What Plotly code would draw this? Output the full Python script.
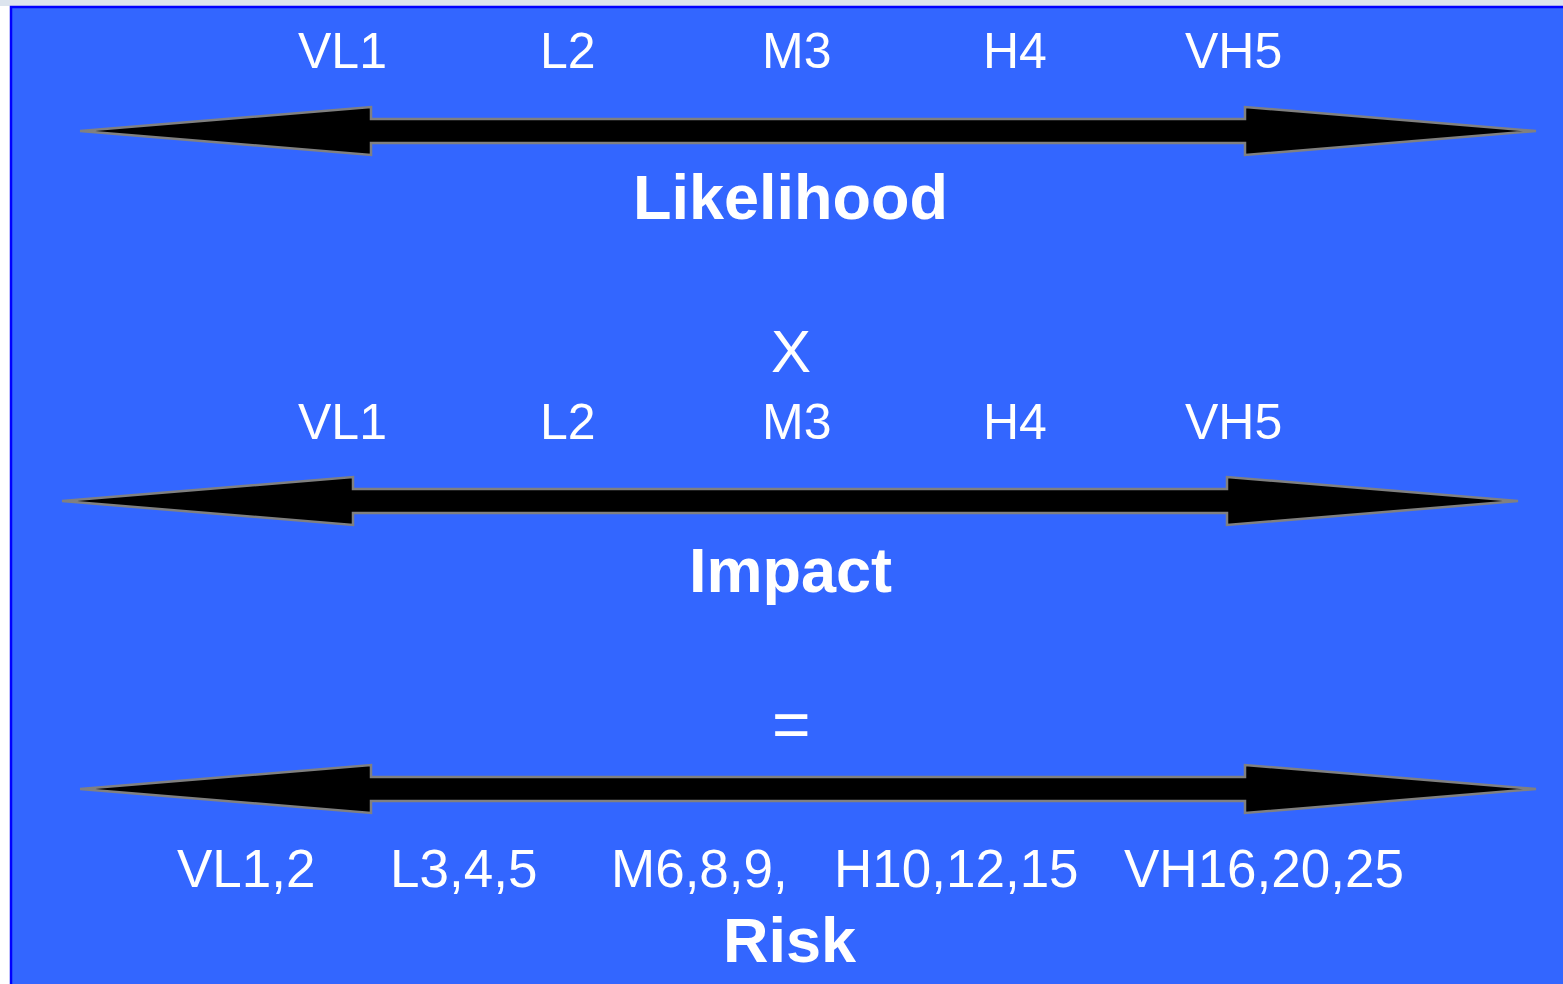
import plotly.graph_objects as go

# Data: labels
scale_labels = ["VL1", "L2", "M3", "H4", "VH5"]
risk_labels = ["VL1,2", "L3,4,5", "M6,8,9,", "H10,12,15", "VH16,20,25"]
titles = ["Likelihood", "Impact", "Risk"]
operators = ["X", "="]

W, H = 1563, 984
BLUE = "#3366FF"
FONT = "Liberation Sans, Arial, sans-serif"

fig = go.Figure()

# background panel
shapes = [
    dict(type="rect", x0=0, x1=W + 20, y0=0, y1=6, fillcolor="#dce4ee", line=dict(width=0), layer="below"),
    dict(type="rect", x0=11, x1=W + 20, y0=7, y1=H + 20, fillcolor=BLUE,
         line=dict(color="#0000FF", width=2.5), layer="below"),
]


def arrow(xl, xr, yc, head_len=291, head_half=24, shaft_half=12):
    xs = [xl, xl + head_len, xl + head_len, xr - head_len, xr - head_len, xr,
          xr - head_len, xr - head_len, xl + head_len, xl + head_len, xl]
    ys = [yc, yc - head_half, yc - shaft_half, yc - shaft_half, yc - head_half, yc,
          yc + head_half, yc + shaft_half, yc + shaft_half, yc + head_half, yc]
    return xs, ys


arrow_specs = [(80, 1536, 131), (62, 1518, 501), (80, 1536, 789)]
for xl, xr, yc in arrow_specs:
    xs, ys = arrow(xl, xr, yc)
    fig.add_trace(go.Scatter(x=xs, y=ys, mode="lines", fill="toself", fillcolor="black",
                             line=dict(color="#808080", width=2.5), hoverinfo="skip",
                             showlegend=False))

ann = []
scale_x = [342, 568, 796, 1015, 1233]
for lbl, x in zip(scale_labels, scale_x):
    for y in (51, 422):
        ann.append(dict(x=x, y=y, text=lbl, showarrow=False,
                        font=dict(family=FONT, size=50, color="white")))
risk_x = [246, 463, 699, 956, 1264]
for lbl, x in zip(risk_labels, risk_x):
    ann.append(dict(x=x, y=868, text=lbl, showarrow=False,
                    font=dict(family=FONT, size=53, color="white")))
for t, y in zip(titles, [197, 570, 940]):
    ann.append(dict(x=790, y=y, text="<b>" + t + "</b>", showarrow=False,
                    font=dict(family=FONT, size=63, color="white")))
for t, y, s in zip(operators, [351, 724], [60, 66]):
    ann.append(dict(x=791, y=y, text=t, showarrow=False,
                    font=dict(family=FONT, size=s, color="white")))

fig.update_layout(
    width=W, height=H, margin=dict(l=0, r=0, t=0, b=0),
    paper_bgcolor="white", plot_bgcolor="white",
    xaxis=dict(range=[0, W], visible=False, fixedrange=True),
    yaxis=dict(range=[H, 0], visible=False, fixedrange=True),
    shapes=shapes, annotations=ann, showlegend=False,
)

fig.write_html(
    "out.html",
    config={"displayModeBar": False},
    post_script="document.body.style.margin='0';document.body.style.overflow='hidden';",
)
